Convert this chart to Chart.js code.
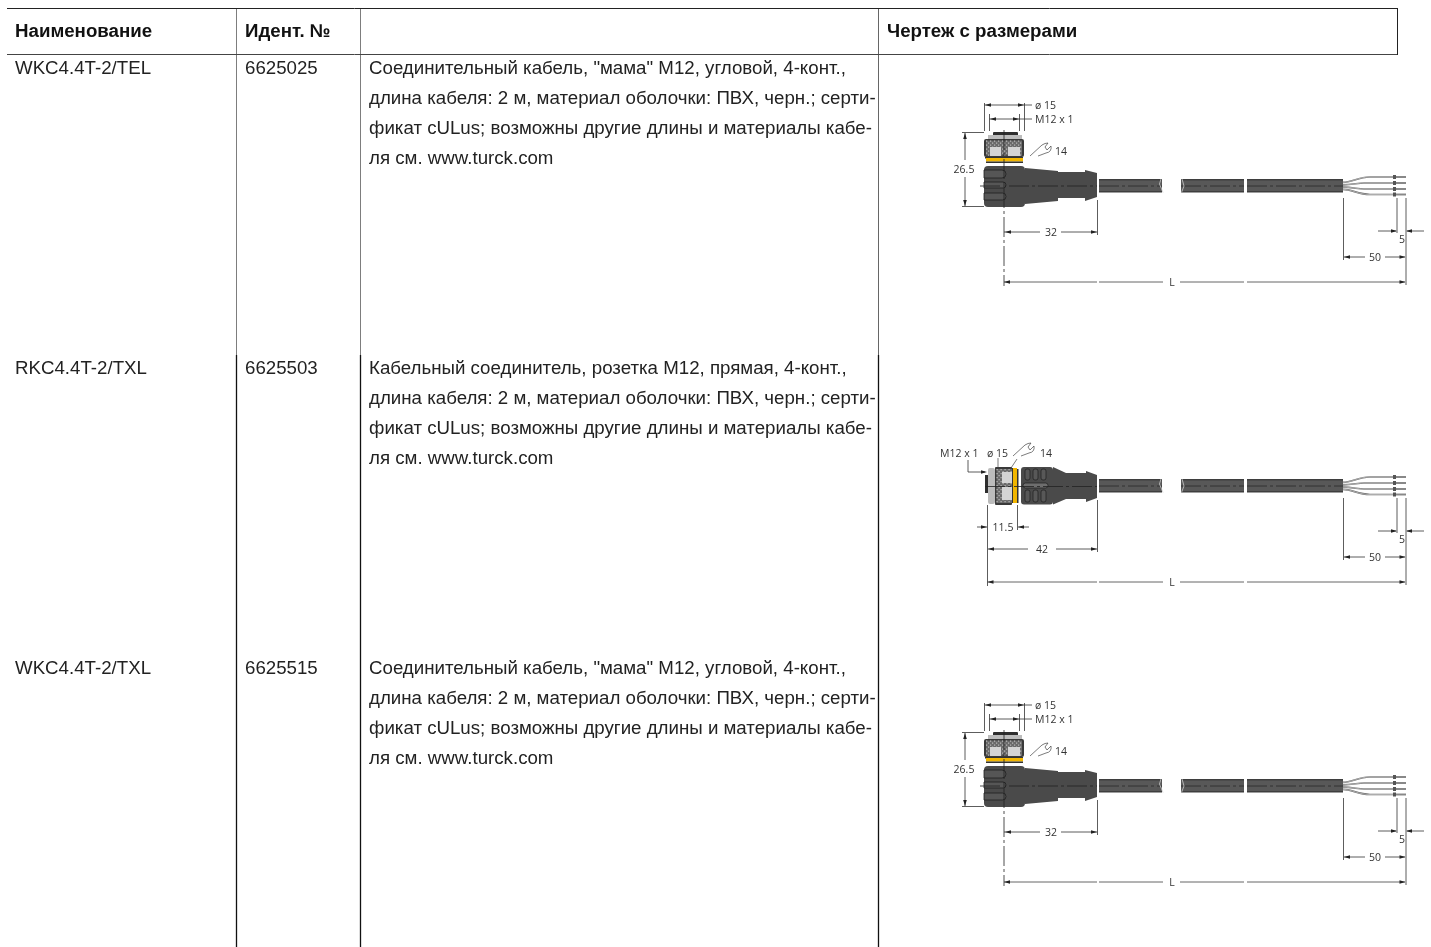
<!DOCTYPE html>
<html>
<head>
<meta charset="utf-8">
<script src="https://cdn.jsdelivr.net/npm/chart.js@4"></script>
<style>
  html, body { margin: 0; padding: 0; background: #fff; }
  canvas { display: block; }
</style>
</head>
<body>
<canvas id="sheet" width="1431" height="947"></canvas>
<script>
const headers = ['Наименование', 'Идент. №', '', 'Чертеж с размерами'];
const names = ['WKC4.4T-2/TEL', 'RKC4.4T-2/TXL', 'WKC4.4T-2/TXL'];
const idents = ['6625025', '6625503', '6625515'];
const anglesDesc = [
  'Соединительный кабель, "мама" M12, угловой, 4-конт.,',
  'длина кабеля: 2 м, материал оболочки: ПВХ, черн.; серти-',
  'фикат cULus; возможны другие длины и материалы кабе-',
  'ля см. www.turck.com'
];
const straightDesc = [
  'Кабельный соединитель, розетка M12, прямая, 4-конт.,',
  'длина кабеля: 2 м, материал оболочки: ПВХ, черн.; серти-',
  'фикат cULus; возможны другие длины и материалы кабе-',
  'ля см. www.turck.com'
];
const descriptions = [anglesDesc, straightDesc, anglesDesc];
const dimAngled = ['ø 15', 'M12 x 1', '14', '26.5', '32', 'L', '5', '50'];
const dimStraight = ['M12 x 1', 'ø 15', '14', '11.5', '42', 'L', '5', '50'];

// table rules go in as line datasets
const rule = (x1, y1, x2, y2, color, width) => ({
  type: 'scatter', showLine: true, pointRadius: 0, borderColor: color, borderWidth: width || 1,
  data: [{ x: x1, y: y1 }, { x: x2, y: y2 }]
});

const BLACK = '#222';
const GREY = '#7d7d7d';
const rules = [
  rule(7, 8.5, 1397, 8.5, BLACK),
  rule(7, 54.5, 1397, 54.5, '#444'),
  rule(1397.5, 8, 1397.5, 55, BLACK),
  rule(236.5, 9, 236.5, 355, GREY),
  rule(236.5, 355, 236.5, 947, '#111', 1.3),
  rule(360.5, 9, 360.5, 355, GREY),
  rule(360.5, 355, 360.5, 947, '#111', 1.3),
  rule(878.5, 9, 878.5, 355, '#666'),
  rule(878.5, 355, 878.5, 947, '#111', 1.3)
];

const drawingPlugin = {
  id: 'drawing',
  afterDraw(chart) {
    const ctx = chart.ctx;
    const sx = chart.scales.x, sy = chart.scales.y;
    const X = v => sx.getPixelForValue(v);
    const Y = v => sy.getPixelForValue(v);

    const text = (s, x, y, font, color, align) => {
      ctx.font = font;
      ctx.fillStyle = color || '#111';
      ctx.textAlign = align || 'left';
      ctx.textBaseline = 'alphabetic';
      ctx.fillText(s, X(x), Y(y));
    };
    const line = (pts, color, w, dash) => {
      ctx.beginPath();
      pts.forEach((p, i) => i ? ctx.lineTo(X(p[0]), Y(p[1])) : ctx.moveTo(X(p[0]), Y(p[1])));
      ctx.strokeStyle = color || '#333';
      ctx.lineWidth = w || 0.8;
      ctx.setLineDash(dash || []);
      ctx.stroke();
      ctx.setLineDash([]);
    };
    const poly = (pts, fill) => {
      ctx.beginPath();
      pts.forEach((p, i) => i ? ctx.lineTo(X(p[0]), Y(p[1])) : ctx.moveTo(X(p[0]), Y(p[1])));
      ctx.closePath();
      ctx.fillStyle = fill;
      ctx.fill();
    };
    const box = (x, y, w, h, fill, r) => {
      ctx.beginPath();
      ctx.roundRect(X(x), Y(y), w, h, r || 0);
      ctx.fillStyle = fill;
      ctx.fill();
    };
    const arrow = (x, y, dir) => { // dir: where the tip points
      const a = 6, b = 1.8;
      if (dir === 'l') poly([[x, y], [x + a, y - b], [x + a, y + b]], '#222');
      if (dir === 'r') poly([[x, y], [x - a, y - b], [x - a, y + b]], '#222');
      if (dir === 'u') poly([[x, y], [x - b, y + a], [x + b, y + a]], '#222');
      if (dir === 'd') poly([[x, y], [x - b, y - a], [x + b, y - a]], '#222');
    };
    const dimFont = '10.5px "Open Sans"';
    const label = (s, x, y, align) => text(s, x, y + 3.5, dimFont, '#333', align || 'center');
    const CENTER = [20, 3, 3, 3];

    // header + rows
    const headX = [15, 245, 369, 887];
    headers.forEach((h, i) => text(h, headX[i], 36.5, 'bold 18.7px "Liberation Sans"', '#111'));
    const rowTop = [0, 300, 600];
    const bodyFont = '18.7px "Liberation Sans"';
    names.forEach((n, i) => {
      text(n, 15, 73.5 + rowTop[i], bodyFont, '#222');
      text(idents[i], 245, 73.5 + rowTop[i], bodyFont, '#222');
      descriptions[i].forEach((d, k) => text(d, 369, 73.5 + rowTop[i] + k * 30, bodyFont, '#222'));
    });

    // knurled ring is a dotted grey patch
    const knurl = (x, y, w, h) => {
      box(x, y, w, h, '#6a6a6a');
      for (let i = 0; i < w; i += 2) {
        for (let k = 0; k < h; k += 2) {
          if ((i + k) % 4 === 0) box(x + i, y + k, 1.2, 1.2, '#b8b8b8');
        }
      }
    };

    // cable, wires and the right hand dimensions, same for all drawings
    const cableAndWires = (dy, x0, lab) => {
      const c = 186 + dy;
      [[1099, 1162], [1181, 1244], [1247, 1343]].forEach(s => {
        box(s[0], c - 7, s[1] - s[0], 13.5, '#3e3e3e');
        box(s[0], c - 5.5, s[1] - s[0], 10.5, '#585858');
        line([[s[0], c], [s[1], c]], '#2a2a2a', 0.8, CENTER);
      });
      line([[1161, c - 7], [1159.5, c - 2], [1163, c + 6.5]], '#ccc', 0.8);
      line([[1182, c - 7], [1184, c], [1181.5, c + 6.5]], '#ccc', 0.8);

      // wires
      [[-9, 1370], [-3, 1364], [3, 1364], [8.5, 1370]].forEach(w => {
        const wy = c + w[0];
        const s0 = c + w[0] * 0.4;
        ['#666', '#ddd'].forEach((col, n) => {
          ctx.beginPath();
          ctx.moveTo(X(1343), Y(s0));
          ctx.bezierCurveTo(X(1352), Y(s0), X(1358), Y(wy), X(w[1]), Y(wy));
          ctx.lineTo(X(1393), Y(wy));
          ctx.strokeStyle = col;
          ctx.lineWidth = n ? 0.6 : 1.7;
          ctx.stroke();
        });
        box(1393, wy - 2, 3, 4, '#555');
        box(1396, wy - 1, 10, 2, '#888');
      });

      // 5, 50, L
      const ly = 282 + dy;
      line([[1343.5, 198 + dy], [1343.5, 260 + dy]]);
      line([[1397, 198 + dy], [1397, 233 + dy]]);
      line([[1406, 198 + dy], [1406, 285 + dy]]);
      line([[1378, 231 + dy], [1396, 231 + dy]]);
      line([[1407, 231 + dy], [1424, 231 + dy]]);
      arrow(1397, 231 + dy, 'r');
      arrow(1406, 231 + dy, 'l');
      label(lab[6], 1402, 239 + dy);
      line([[1344, 257 + dy], [1365, 257 + dy]]);
      line([[1385, 257 + dy], [1405, 257 + dy]]);
      arrow(1344, 257 + dy, 'l');
      arrow(1405.5, 257 + dy, 'r');
      label(lab[7], 1375, 257 + dy);
      [[x0, 1097], [1099, 1163], [1180, 1244], [1247, 1405]].forEach(s => line([[s[0], ly], [s[1], ly]], '#666', 1));
      arrow(x0, ly, 'l');
      arrow(1405.5, ly, 'r');
      label(lab[5], 1172, ly);
    };

    const wrench = (x, y) => {
      ctx.beginPath();
      ctx.moveTo(X(x), Y(y + 7));
      ctx.lineTo(X(x + 12), Y(y - 4));
      ctx.quadraticCurveTo(X(x + 15), Y(y - 6), X(x + 18), Y(y - 6));
      ctx.lineTo(X(x + 15), Y(y - 2));
      ctx.lineTo(X(x + 17), Y(y + 1));
      ctx.lineTo(X(x + 21), Y(y - 3));
      ctx.quadraticCurveTo(X(x + 22), Y(y + 3), X(x + 16), Y(y + 4));
      ctx.lineTo(X(x + 8), Y(y + 7));
      ctx.strokeStyle = '#444';
      ctx.lineWidth = 0.7;
      ctx.stroke();
    };

    const angled = (dy, lab) => {
      const D = '#4a4a4a';
      cableAndWires(dy, 1004, lab);
      // ext lines top
      line([[984.5, 103 + dy], [984.5, 131 + dy]]);
      line([[1024.5, 103 + dy], [1024.5, 131 + dy]]);
      line([[989.5, 114 + dy], [989.5, 131 + dy]]);
      line([[1019.5, 114 + dy], [1019.5, 131 + dy]]);
      line([[984.5, 105 + dy], [1032, 105 + dy]]);
      line([[989.5, 119 + dy], [1032, 119 + dy]]);
      arrow(985, 105 + dy, 'l'); arrow(1024, 105 + dy, 'r');
      arrow(990, 119 + dy, 'l'); arrow(1019, 119 + dy, 'r');
      label(lab[0], 1035, 105 + dy, 'left');
      label(lab[1], 1035, 119 + dy, 'left');
      // 26.5
      line([[962, 132.5 + dy], [984, 132.5 + dy]]);
      line([[962, 206.5 + dy], [984, 206.5 + dy]]);
      line([[965, 133 + dy], [965, 160 + dy]]);
      line([[965, 177 + dy], [965, 206 + dy]]);
      arrow(965, 133 + dy, 'u'); arrow(965, 206 + dy, 'd');
      label(lab[3], 964, 169 + dy);
      // connector
      box(993, 132 + dy, 25, 4, '#2e2e2e', 1);
      box(988, 135 + dy, 34, 5, '#bcbcbc');
      box(984, 139 + dy, 40, 18, '#3a3a3a', 2);
      knurl(986, 140.5 + dy, 36, 15);
      box(990, 147 + dy, 11, 9, '#d4d4d4');
      box(1008, 147 + dy, 12, 9, '#d4d4d4');
      box(985, 157 + dy, 38, 1.5, '#333');
      box(986, 158 + dy, 37, 3.5, '#f2b600');
      box(986, 161.5 + dy, 37, 1.5, '#333');
      box(984, 166 + dy, 41, 41, D, 4);
      [[170, 8], [182, 6], [193, 7]].forEach(f => {
        ctx.beginPath();
        ctx.roundRect(X(984), Y(f[0] + dy), 22, f[1], [0, 4, 4, 0]);
        ctx.fillStyle = '#565656';
        ctx.strokeStyle = '#1e1e1e';
        ctx.lineWidth = 0.8;
        ctx.fill();
        ctx.stroke();
      });
      poly([[1025, 168 + dy], [1058, 171 + dy], [1058, 201 + dy], [1025, 204 + dy]], D);
      box(1058, 172 + dy, 27, 26, D);
      poly([[1085, 170 + dy], [1097, 173 + dy], [1097, 197 + dy], [1085, 201 + dy]], D);
      // centre lines
      line([[1004, 130 + dy], [1004, 286 + dy]], '#222', 0.8, CENTER);
      line([[980, 186 + dy], [1097, 186 + dy]], '#222', 0.8, CENTER);
      // wrench and 14
      wrench(1030, 149 + dy);
      label(lab[2], 1055, 151.5 + dy, 'left');
      // 32
      line([[1097.5, 200 + dy], [1097.5, 235 + dy]]);
      line([[1004, 232 + dy], [1040, 232 + dy]]);
      line([[1061, 232 + dy], [1097, 232 + dy]]);
      arrow(1005, 232 + dy, 'l'); arrow(1097, 232 + dy, 'r');
      label(lab[4], 1051, 232 + dy);
    };

    const straight = (dy, lab) => {
      const D = '#4a4a4a';
      cableAndWires(dy, 987.5, lab);
      label(lab[0], 940, 453, 'left');
      label(lab[1], 987, 453, 'left');
      label(lab[2], 1040, 453, 'left');
      wrench(1013, 449);
      line([[1017, 459], [1005, 477]], '#444', 0.7);
      line([[998, 458], [998, 468]], '#444', 0.7);
      line([[968, 460], [968, 472], [985, 472]]);
      arrow(987, 472, 'r');
      // connector
      box(985, 475, 3, 18, '#2e2e2e');
      box(988, 468, 7, 36, '#bcbcbc', 2);
      box(995, 467, 17, 38, '#3a3a3a', 1);
      knurl(996.5, 469, 15.5, 34);
      box(1002, 472, 10, 11, '#d4d4d4');
      box(1002, 487, 10, 13, '#d4d4d4');
      box(1012, 468, 1.5, 35, '#333');
      box(1013, 468, 4, 35, '#f2b600');
      box(1017, 469, 1.5, 34, '#333');
      box(1021, 467, 32, 37.5, D, 3);
      [1025, 1033, 1041].forEach(rx => {
        [[469, 11], [490, 12]].forEach(s => {
          ctx.beginPath();
          ctx.roundRect(X(rx), Y(s[0]), 5, s[1], 2);
          ctx.fillStyle = '#585858';
          ctx.strokeStyle = '#1e1e1e';
          ctx.lineWidth = 0.7;
          ctx.fill();
          ctx.stroke();
        });
      });
      ctx.beginPath();
      ctx.roundRect(X(1023), Y(483), 25, 5, 2.5);
      ctx.fillStyle = '#6e6e6e';
      ctx.strokeStyle = '#1e1e1e';
      ctx.fill();
      ctx.stroke();
      poly([[1053, 467], [1066, 473], [1066, 499], [1053, 504.5]], D);
      box(1066, 473, 20, 26, D);
      poly([[1086, 471], [1097, 475], [1097, 498], [1086, 502]], D);
      line([[985, 486.5], [1097, 486.5]], '#222', 0.8, CENTER);
      // 11.5
      line([[987.5, 505], [987.5, 586]]);
      line([[1017.5, 505], [1017.5, 530]]);
      line([[977, 527], [987, 527]]);
      line([[1018, 527], [1029, 527]]);
      arrow(987, 527, 'r'); arrow(1018, 527, 'l');
      label(lab[3], 1003, 527);
      // 42
      line([[1097.5, 500], [1097.5, 552]]);
      line([[988, 549], [1028, 549]]);
      line([[1056, 549], [1097, 549]]);
      arrow(988, 549, 'l'); arrow(1097, 549, 'r');
      label(lab[4], 1042, 549);
    };

    angled(0, dimAngled);
    straight(300, dimStraight);
    angled(600, dimAngled);
  }
};

new Chart(document.getElementById('sheet'), {
  type: 'scatter',
  data: { datasets: rules },
  options: {
    responsive: false,
    animation: false,
    layout: { padding: 0 },
    plugins: { legend: { display: false }, tooltip: { enabled: false } },
    scales: {
      x: { type: 'linear', display: false, min: 0, max: 1431 },
      y: { type: 'linear', display: false, min: 0, max: 947, reverse: true }
    }
  },
  plugins: [drawingPlugin]
});
</script>
</body>
</html>
